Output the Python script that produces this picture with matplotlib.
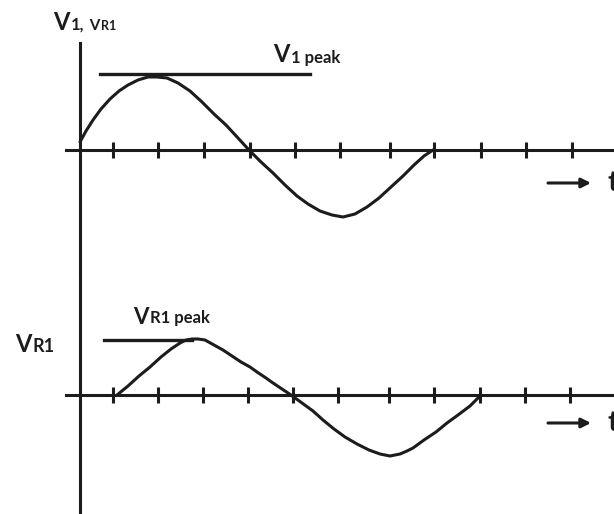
import matplotlib
matplotlib.use("Agg")
import matplotlib.pyplot as plt
from matplotlib.offsetbox import TextArea, HPacker, AnnotationBbox

plt.rcParams['font.family'] = ['Lato', 'DejaVu Sans']

INK = '#1c1c1c'

# upper trace: V1 (time, voltage)
t_v1 = [0, 6, 13, 21, 30, 39, 48, 58, 68, 77, 87, 98, 110, 122, 134, 146, 158, 169,
        181, 193, 205, 217, 228, 240, 252, 263, 275, 287, 299, 311, 323, 334, 344, 353]
v1 = [8, 19, 30, 41, 51, 59, 65, 70, 73, 73, 72, 67, 59, 48, 36, 25, 12, 0,
      -12, -23, -35, -46, -54, -61, -65, -67, -64, -57, -48, -37, -26, -15, -6, 0]
v1_peak = 76
v1_peak_span = [20, 230]
ticks_top = [33, 78, 124, 170, 215, 260, 310, 354, 401, 446, 492]

# lower trace: VR1
t_vr1 = [37, 48, 59, 70, 81, 91, 100, 106, 112, 118, 125, 134, 143, 152, 161, 170,
         177, 186, 193, 202, 211, 222, 233, 243, 254, 265, 277, 289, 300, 310, 320,
         327, 333, 344, 356, 367, 378, 390, 401]
vr1 = [0, 9, 19, 28, 38, 46, 52, 55, 56, 56, 55, 50, 45, 39, 33, 28,
       23, 17, 12, 6, 0, -8, -16, -25, -34, -42, -49, -55, -59, -61, -59,
       -56, -53, -45, -37, -28, -20, -11, 0]
vr1_peak = 55
vr1_peak_span = [24, 112]
ticks_bot = [33, 78, 123, 168, 213, 258, 309, 354, 400, 445, 490]


def label(ax, x, y, parts):
    areas = [TextArea(s, textprops=dict(fontsize=fs, fontweight='bold', color=INK))
             for s, fs in parts]
    box = HPacker(children=areas, align='baseline', pad=0, sep=1)
    ab = AnnotationBbox(box, (x, y), xycoords='data', box_alignment=(0, 0.5),
                        frameon=False, pad=0, annotation_clip=False)
    ax.add_artist(ab)


def setup(ax, ylim, ticks, left_bounds):
    ax.set_xlim(-80, 534)
    ax.set_ylim(*ylim)
    ax.patch.set_alpha(0)
    for s in ['top', 'right']:
        ax.spines[s].set_visible(False)
    ax.spines['left'].set_position(('data', 0))
    ax.spines['bottom'].set_position(('data', 0))
    ax.spines['left'].set_bounds(*left_bounds)
    ax.spines['bottom'].set_bounds(-14, 534)
    for s in ['left', 'bottom']:
        ax.spines[s].set_linewidth(2.2)
        ax.spines[s].set_color(INK)
    ax.set_xticks(ticks)
    ax.set_yticks([])
    ax.tick_params(axis='x', direction='inout', length=11, width=2.2, color=INK,
                   labelbottom=False)


def arrow_t(ax, y):
    ax.annotate('', xy=(511, y), xytext=(468, y),
                arrowprops=dict(arrowstyle='-|>', lw=2.2, color=INK, mutation_scale=14,
                                shrinkA=0, shrinkB=0))
    ax.text(528, y, 't', fontsize=21, fontweight='bold', color=INK,
            ha='left', va='center', clip_on=False)


fig = plt.figure(figsize=(6.14, 5.14), dpi=100)
# top panel covers the upper 272 px, bottom panel the lower 242 px
lower = 242 / 514
ax1 = fig.add_axes([0, lower, 1, 1 - lower])
ax2 = fig.add_axes([0, 0, 1, lower])

setup(ax1, (-122, 150), ticks_top, (-122, 107))
setup(ax2, (-119, 123), ticks_bot, (-119, 123))

ax1.plot(t_v1, v1, color=INK, lw=2.2, solid_joinstyle='round', solid_capstyle='round')
ax1.plot(v1_peak_span, [v1_peak, v1_peak], color=INK, lw=2.4)
label(ax1, -27, 128, [('V', 17), ('1,', 12), (' V', 11), ('R1', 9)])
label(ax1, 193, 95, [('V', 17), ('1 peak', 12)])
arrow_t(ax1, -33)

ax2.plot(t_vr1, vr1, color=INK, lw=2.2, solid_joinstyle='round', solid_capstyle='round')
ax2.plot(vr1_peak_span, [vr1_peak, vr1_peak], color=INK, lw=2.4)
label(ax2, -65, 50, [('V', 17), ('R1', 13)])
label(ax2, 53, 78, [('V', 16), ('R1 peak', 12)])
arrow_t(ax2, -28)

fig.savefig('out.png', dpi=100)
